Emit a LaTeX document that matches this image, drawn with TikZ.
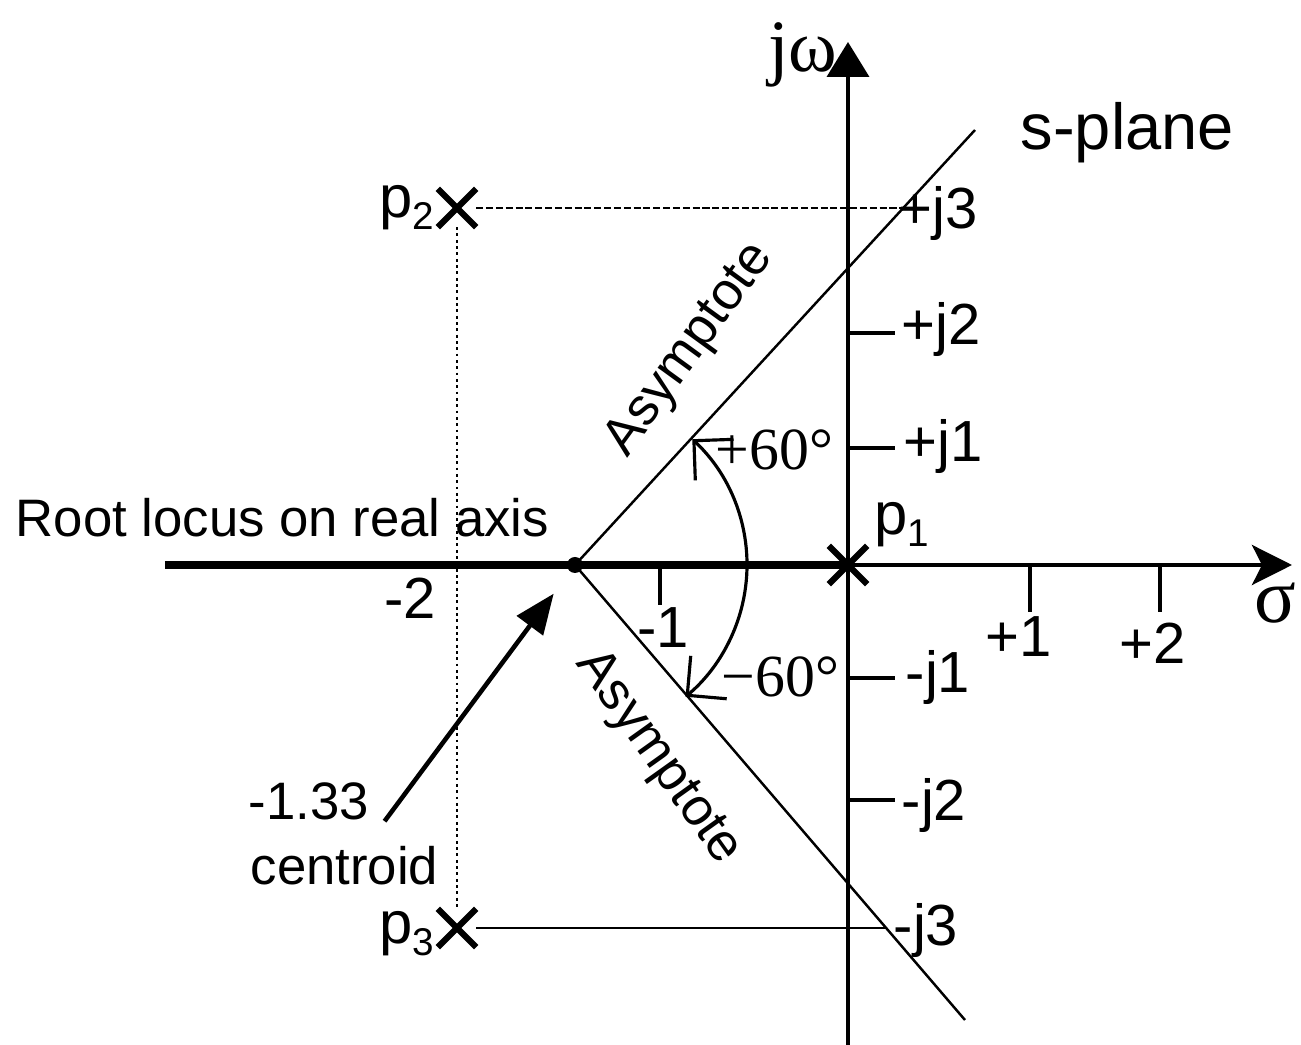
\documentclass[tikz,border=0pt]{standalone}
\usepackage{fontspec}
\setmainfont{Liberation Sans}
\newfontfamily\timesfont{Liberation Serif}
\usepackage{tikz}
\usetikzlibrary{arrows.meta,positioning,shapes.misc,calc}

\newcommand{\psub}[1]{\raisebox{-0.2em}{\fontsize{11}{12}\selectfont#1}}

\begin{document}
\begin{tikzpicture}[
    pole/.style={draw, cross out, line width=1.8pt, minimum size=0.32cm, inner sep=0pt},
    tick/.style={line width=0.9pt},
    thinline/.style={line width=0.7pt},
    txt/.style={font=\fontsize{15}{17}\selectfont, inner sep=0pt},
    jtxt/.style={font=\fontsize{16.5}{18}\selectfont, inner sep=0pt, anchor=base west},
    angtxt/.style={font=\timesfont\fontsize{17}{19}\selectfont, inner sep=0pt, anchor=base west},
    barbs/.style={<->, >={Straight Barb[length=2.8mm, width=5.6mm]}},
]
    \useasboundingbox (-8.48,-4.80) rectangle (4.53,5.65);

    % Axes end points
    \coordinate (o) at (0,0);
    \coordinate (locend) at (-6.83,0);
    \coordinate (sigend) at (4.44,0);
    \coordinate (jbot) at (0,-4.80);
    \coordinate (jtop) at (0,5.23);
    % Asymptote end points and crossings with the p2, p3 lines
    \coordinate (a1) at (1.27,4.35);
    \coordinate (a2) at (1.17,-4.55);
    \coordinate (c2) at (0.55,3.57);
    \coordinate (c3) at (0.38,-3.63);

    % Axes
    \draw[line width=1.1pt, -{Triangle[length=3.5mm, width=4.2mm]}] (jbot) -- (jtop);
    \draw[line width=1.2pt, -{Stealth[length=4mm, width=4mm, inset=1mm]}] (o) -- (sigend);
    \draw[line width=2.2pt] (locend) -- (o);

    % Ticks
    \foreach \x/\l in {-1.88/0.40, 1.82/0.47, 3.12/0.47}
        \draw[tick] (\x,0) -- (\x,-\l);
    \foreach \y in {2.32, 1.17, -1.13, -2.35}
        \draw[tick] (0,\y) -- (0.47,\y);

    % Poles and centroid
    \node[pole] (p1) at (0,0) {};
    \node[pole] (p2) at (-3.91,3.57) {};
    \node[pole] (p3) at (-3.91,-3.63) {};
    \node[circle, fill, inner sep=0pt, minimum size=0.16cm] (cen) at (-2.73,0) {};

    % Guide lines from the complex poles
    \draw[thinline, dash pattern=on 2pt off 0.8pt] (p2) -- (c2);
    \draw[thinline] (p3) -- (c3);
    \draw[line width=0.8pt, densely dotted] (p2) -- (p3);

    % Asymptotes and angle arc
    \draw[thinline] (cen.center) -- (a1);
    \draw[thinline] (cen.center) -- (a2);
    \draw[line width=0.9pt, barbs] ($(cen)+(47:1.72)$) arc[start angle=47, end angle=-50, radius=1.72];
    \node[txt, rotate=54] (asy1) at (-1.58,2.15) {Asymptote};
    \node[txt, rotate=-54.5] (asy2) at (-1.90,-1.93) {Asymptote};
    \node[angtxt] (ang1) at (-1.33,0.95) {+60°};
    \node[angtxt] (ang2) at (-1.27,-1.32) {−60°};

    % Axis labels
    \node[font=\timesfont\fontsize{21}{23}\selectfont, inner sep=0pt, anchor=base east] (jw) at (-0.10,4.93) {jω};
    \node[font=\timesfont\fontsize{22}{24}\selectfont, inner sep=0pt] (sig) at (4.27,-0.38) {σ};
    \node[font=\fontsize{18.5}{20}\selectfont, inner sep=0pt, anchor=base west] (splane) at (1.72,4.15) {s-plane};
    \foreach \x/\y/\t/\n in {0.50/3.36/+j3/jp3, 0.53/2.20/+j2/jp2, 0.55/1.03/+j1/jp1,
                            0.57/-1.28/-j1/jm1, 0.53/-2.56/-j2/jm2, 0.45/-3.81/-j3/jm3}
        \node[jtxt] (\n) at (\x,\y) {\t};
    \foreach \x/\y/\t/\n in {-4.38/-0.33/-2/sm2, -1.85/-0.63/-1/sm1, 1.71/-0.72/+1/sp1, 3.05/-0.78/+2/sp2}
        \node[txt, font=\fontsize{16.5}{18}\selectfont] (\n) at (\x,\y) {\t};

    % Pole labels
    \node[txt, font=\fontsize{17}{19}\selectfont, left=0.03cm of p2] (lp2) {p\psub{2}};
    \node[txt, font=\fontsize{17}{19}\selectfont, left=0.03cm of p3, yshift=-0.06cm] (lp3) {p\psub{3}};
    \node[txt, font=\fontsize{17}{19}\selectfont, anchor=base west] (lp1) at (0.26,0.30) {p\psub{1}};

    % Real axis locus and centroid labels
    \node[txt, anchor=base west] (rl) at (-8.33,0.28) {Root locus on real axis};
    \node[txt, anchor=base west] (num) at (-6.00,-2.55) {-1.33};
    \node[txt, anchor=base west] (cname) at (-5.98,-3.20) {centroid};
    \draw[line width=1.3pt, -{Triangle[length=4mm, width=3.2mm]}, shorten >=0.27cm]
        ($(num.south east)+(0.15,0)$) -- (cen);
\end{tikzpicture}
\end{document}
